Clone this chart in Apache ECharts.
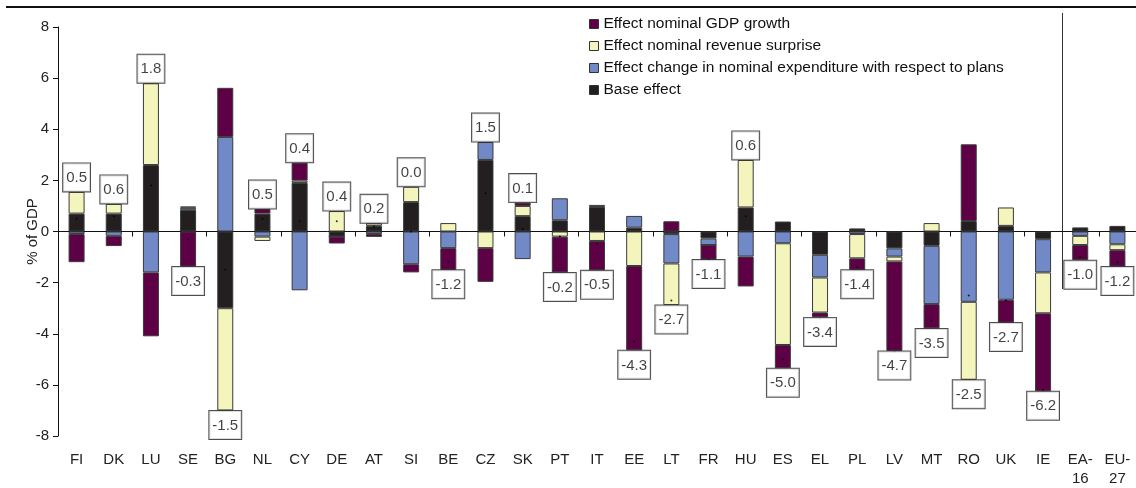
<!DOCTYPE html>
<html>
<head>
<meta charset="utf-8">
<script src="https://cdn.jsdelivr.net/npm/echarts@6/dist/echarts.min.js"></script>
<style>
  html, body { margin: 0; padding: 0; background: #fff; }
  #chart { width: 1136px; height: 488px; }
</style>
</head>
<body>
<div id="chart"></div>
<script>
const categories = ["FI", "DK", "LU", "SE", "BG", "NL", "CY", "DE", "AT", "SI", "BE", "CZ", "SK", "PT", "IT",
  "EE", "LT", "FR", "HU", "ES", "EL", "PL", "LV", "MT", "RO", "UK", "IE", "EA-16", "EU-27"];

// components, % of GDP
const baseEffect = [0.7, 0.7, 2.6, 0.85, -3.0, 0.7, 1.9, -0.2, 0.22, 1.15, 0, 2.8, 0.6, 0.44, 0.96,
  0.15, -0.1, -0.27, 0.94, 0.39, -0.91, 0.12, -0.66, -0.56, 0.41, 0.22, -0.3, 0.16, 0.22];
const expenditure = [-0.1, -0.17, -1.6, 0.08, 3.7, -0.2, -2.3, 0, -0.1, -1.28, -0.65, 0.7, -1.08, 0.86, 0.08,
  0.46, -1.15, -0.26, -0.98, -0.46, -0.89, -0.1, -0.32, -2.28, -2.75, -2.67, -1.3, -0.17, -0.5];
const revenue = [0.85, 0.38, 3.2, 0.05, -4.0, -0.17, 0.09, 0.8, 0.1, 0.6, 0.33, -0.65, 0.4, -0.2, -0.37,
  -1.35, -1.63, 0, 1.86, -3.98, -1.37, -0.95, -0.19, 0.33, -3.05, 0.72, -1.6, -0.36, -0.23];
const gdpGrowth = [-1.1, -0.4, -2.5, -1.37, 1.92, 0.18, 0.7, -0.27, -0.11, -0.32, -0.85, -1.32, 0.13, -1.4, -1.15,
  -3.3, 0.4, -0.57, -1.17, -0.91, -0.19, -0.45, -3.5, -0.95, 3.0, -0.89, -3.05, -0.59, -0.64];

// totals shown in the boxes
const totals = [0.5, 0.6, 1.8, -0.3, -1.5, 0.5, 0.4, 0.4, 0.2, 0.0, -1.2, 1.5, 0.1, -0.2, -0.5,
  -4.3, -2.7, -1.1, 0.6, -5.0, -3.4, -1.4, -4.7, -3.5, -2.5, -2.7, -6.2, -1.0, -1.2];

const yTicks = { min: -8, max: 8, interval: 2 };

const names = {
  gdp: "Effect nominal GDP growth",
  rev: "Effect nominal revenue surprise",
  exp: "Effect change in nominal expenditure with respect to plans",
  base: "Base effect"
};
const colors = { gdp: "#5e0046", rev: "#f4f4bd", exp: "#7189c6", base: "#231f20" };

const font = "'Liberation Sans', Arial, sans-serif";

// label boxes sit just past the end of the bar on the side of the total
const components = [baseEffect, expenditure, revenue, gdpGrowth];
const labelData = categories.map((c, i) => {
  let pos = 0, neg = 0;
  components.forEach((arr) => {
    if (arr[i] > 0) pos += arr[i]; else neg += arr[i];
  });
  const up = totals[i] >= 0;
  return {
    value: [c, up ? pos : neg],
    label: { position: up ? "top" : "bottom" }
  };
});

const chart = echarts.init(document.getElementById("chart"));

const barSeries = (key, data) => ({
  name: names[key],
  type: "bar",
  stack: "total",
  barWidth: 16,
  data: data,
  itemStyle: { color: colors[key], borderColor: "#3a3a3a", borderWidth: 1 },
  emphasis: { disabled: true }
});

const option = {
  animation: false,
  textStyle: { fontFamily: font },
  grid: { left: 58, right: 0, top: 27, bottom: 52 },
  legend: {
    orient: "vertical",
    left: 589,
    top: 16,
    padding: 0,
    itemGap: 6,
    itemWidth: 9,
    itemHeight: 9,
    icon: "rect",
    itemStyle: { borderColor: "#333", borderWidth: 1 },
    textStyle: { fontSize: 15.5, color: "#111", fontFamily: font },
    data: [names.gdp, names.rev, names.exp, names.base]
  },
  xAxis: [
    {
      type: "category",
      data: categories,
      position: "bottom",
      axisLine: { show: false, onZero: false },
      axisTick: { show: false },
      axisLabel: {
        margin: 14,
        fontSize: 15,
        lineHeight: 19,
        color: "#222",
        interval: 0,
        formatter: (v) => v.replace("-", "-\n")
      }
    },
    {
      type: "category",
      data: categories,
      position: "top",
      axisLine: { show: true, onZero: true, lineStyle: { color: "#111", width: 1 } },
      axisTick: { show: true, inside: true, length: 5, lineStyle: { color: "#111" } },
      axisLabel: { show: false }
    }
  ],
  yAxis: {
    type: "value",
    min: yTicks.min,
    max: yTicks.max,
    interval: yTicks.interval,
    name: "% of GDP",
    nameLocation: "middle",
    nameRotate: 90,
    nameGap: 18,
    nameMoveOverlap: false,
    nameTextStyle: { fontSize: 15, color: "#222" },
    axisLine: { show: true, onZero: false, lineStyle: { color: "#111" } },
    axisTick: { show: true, length: 5, lineStyle: { color: "#111" } },
    axisLabel: { fontSize: 15, color: "#222", margin: 9 },
    splitLine: { show: false }
  },
  series: [
    barSeries("base", baseEffect),
    barSeries("exp", expenditure),
    barSeries("rev", revenue),
    barSeries("gdp", gdpGrowth),
    {
      name: "total",
      type: "scatter",
      symbolSize: 2,
      z: 5,
      itemStyle: { color: "#000" },
      data: categories.map((c, i) => [c, totals[i]])
    },
    {
      name: "labels",
      type: "scatter",
      symbolSize: 1,
      z: 6,
      itemStyle: { color: "rgba(0,0,0,0)" },
      label: {
        show: true,
        distance: 0,
        formatter: (p) => totals[p.dataIndex].toFixed(1),
        fontSize: 15,
        color: "#111",
        lineHeight: 17,
        backgroundColor: "#fff",
        borderColor: "#222",
        borderWidth: 1,
        padding: [6, 3, 5, 3]
      },
      data: labelData
    }
  ]
};

chart.setOption(option);

// separator between countries and aggregates, plus the heading rule
const xa = chart.convertToPixel({ xAxisIndex: 0 }, "IE");
const xb = chart.convertToPixel({ xAxisIndex: 0 }, "EA-16");
const sepX = Math.round((xa + xb) / 2) + 0.5;
const sepTop = chart.convertToPixel({ yAxisIndex: 0 }, 8.55);
const sepBottom = chart.convertToPixel({ yAxisIndex: 0 }, -2.25);

chart.setOption({
  graphic: [
    {
      type: "rect",
      shape: { x: 6, y: 6, width: 1130, height: 2 },
      style: { fill: "#111" }
    },
    {
      type: "line",
      shape: { x1: sepX, y1: sepTop, x2: sepX, y2: sepBottom },
      style: { stroke: "#333", lineWidth: 1 }
    }
  ]
});
</script>
</body>
</html>
